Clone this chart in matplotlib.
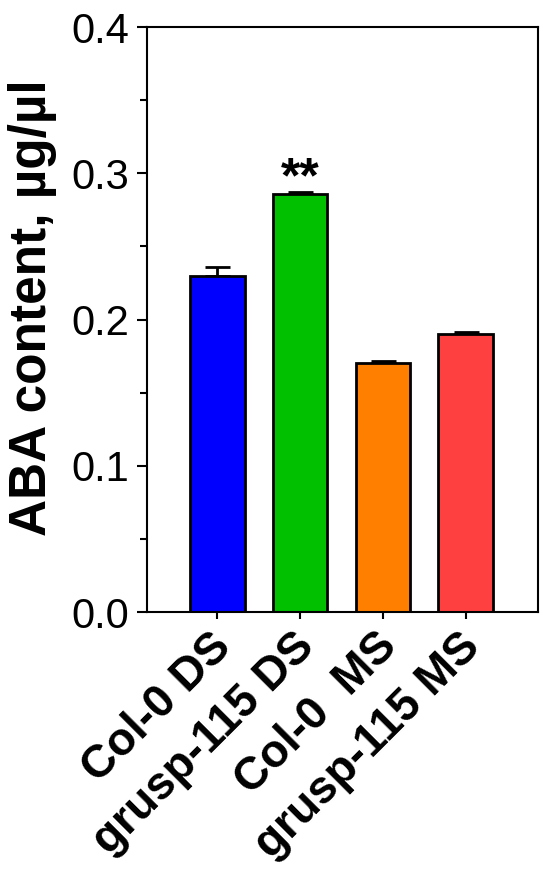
import matplotlib
matplotlib.use("Agg")
import matplotlib.pyplot as plt
import matplotlib.transforms as mtransforms
from matplotlib.ticker import MultipleLocator

plt.rcParams['font.family'] = ['Liberation Sans', 'DejaVu Sans']

groupes = ["Col-0 DS", "grusp-115 DS", "Col-0  MS", "grusp-115 MS"]
valeurs = [0.230, 0.286, 0.170, 0.190]
erreurs = [0.006, 0.001, 0.0015, 0.0015]
couleurs = ["#0000FF", "#00C000", "#FF8000", "#FF4040"]

fig = plt.figure(figsize=(5.5, 8.72), dpi=100)
ax = fig.add_axes([0.267, 0.298, 0.711, 0.671])

x = range(len(groupes))
ax.bar(x, valeurs, width=0.66, color=couleurs, edgecolor="black", linewidth=2, zorder=2)
ax.errorbar(x, valeurs, yerr=[[0] * len(erreurs), erreurs], fmt="none",
            ecolor="black", elinewidth=2, capsize=9, capthick=2, zorder=1)

# significativite
ax.text(1, 0.296, "**", ha="center", va="center", fontsize=36, fontweight="bold")

ax.set_xlim(-0.85, 3.87)
ax.set_ylim(0, 0.4)
ax.yaxis.set_major_locator(MultipleLocator(0.1))
ax.yaxis.set_minor_locator(MultipleLocator(0.05))
ax.yaxis.set_major_formatter(plt.FuncFormatter(lambda v, p: f"{v:.1f}"))

for s in ax.spines.values():
    s.set_linewidth(1.5)
ax.tick_params(axis="y", which="major", length=7, width=1.5, labelsize=30, pad=5.5)
ax.tick_params(axis="y", which="minor", length=5, width=1.5)
ax.tick_params(axis="x", length=5, width=1.5, pad=4)

ax.set_xticks(list(x))
ax.set_xticklabels(groupes, rotation=45, ha="right", va="top", rotation_mode="anchor",
                   fontsize=33, fontweight="bold")
decalage = mtransforms.ScaledTranslation(-8 / 100, 0, fig.dpi_scale_trans)
for lab in ax.get_xticklabels():
    lab.set_transform(lab.get_transform() + decalage)

ax.set_ylabel("ABA content, µg/µl", fontsize=37, fontweight="bold")
ax.yaxis.set_label_coords(-0.23, 0.52)

fig.savefig("out.png", dpi=100)
